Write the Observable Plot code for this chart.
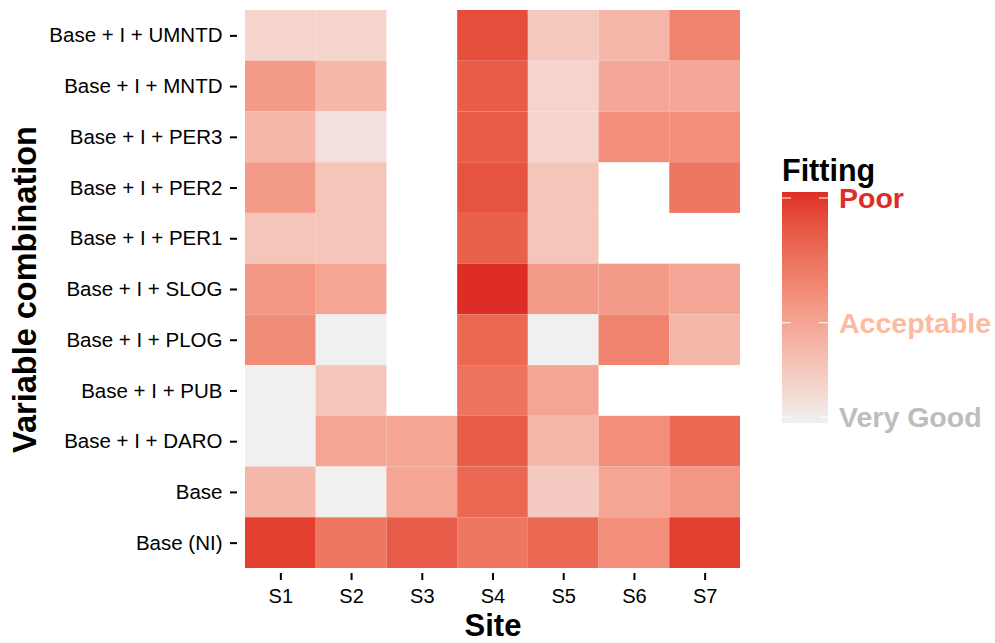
<!DOCTYPE html>
<html><head><meta charset="utf-8">
<script src="https://cdn.jsdelivr.net/npm/d3@7"></script>
<script src="https://cdn.jsdelivr.net/npm/@observablehq/plot@0.6"></script>
<style>
html,body{margin:0;padding:0;background:#fff;}
#chart{width:995px;height:643px;}
svg{font-family:"Liberation Sans",Arial,sans-serif;}
</style></head><body><div id="chart"></div>
<script>
// categories
const sites = ["S1","S2","S3","S4","S5","S6","S7"];
const combos = ["Base + I + UMNTD","Base + I + MNTD","Base + I + PER3","Base + I + PER2","Base + I + PER1",
  "Base + I + SLOG","Base + I + PLOG","Base + I + PUB","Base + I + DARO","Base","Base (NI)"];
// fitting score per combination, one value per site (0 = very good, 1 = poor; null = not fitted)
const vUMNTD = [0.16,0.16,null,0.88,0.23,0.33,0.62];
const vMNTD  = [0.49,0.33,null,0.81,0.16,0.42,0.42];
const vPER3  = [0.33,0.09,null,0.81,0.16,0.56,0.56];
const vPER2  = [0.49,0.25,null,0.86,0.25,null,0.68];
const vPER1  = [0.25,0.25,null,0.80,0.25,null,null];
const vSLOG  = [0.51,0.43,null,1.00,0.49,0.49,0.42];
const vPLOG  = [0.57,0.00,null,0.76,0.00,0.62,0.33];
const vPUB   = [0.00,0.25,null,0.70,0.43,null,null];
const vDARO  = [0.00,0.43,0.43,0.81,0.33,0.56,0.76];
const vBase  = [0.33,0.00,0.43,0.76,0.22,0.43,0.51];
const vBaseNI= [0.94,0.68,0.81,0.68,0.76,0.56,0.94];
const rows = [vUMNTD,vMNTD,vPER3,vPER2,vPER1,vSLOG,vPLOG,vPUB,vDARO,vBase,vBaseNI];
// legend
const legendLabels = ["Poor","Acceptable","Very Good"];
const legendValues = [0.974,0.434,0.026];
const legendColors = ["#DE2D26","#FCBBA1","#BDBDBD"];
const lowColor = "#F0F0F0", highColor = "#DE2D26";

const data = [];
combos.forEach((c,i)=>rows[i].forEach((v,j)=>{ if(v!=null) data.push({site:sites[j], combo:c, value:v}); }));

const chart = Plot.plot({
  width:995, height:643,
  marginTop:10, marginRight:255, marginBottom:75, marginLeft:245,
  style:{fontFamily:'"Liberation Sans",Arial,sans-serif', background:"#fff"},
  x:{domain:sites, padding:0, round:false, label:null},
  y:{domain:combos, padding:0, round:false, label:null},
  color:{type:"linear", domain:[0,1], range:[lowColor,highColor], interpolate:d3.interpolateLab},
  marks:[
    Plot.cell(data,{x:"site", y:"combo", fill:"value", inset:0}),
    Plot.axisX({tickSize:7, dy:5, tickPadding:8, fontSize:20, strokeWidth:2, label:null}),
    Plot.axisY({tickSize:7, dx:-8, tickPadding:8, fontSize:20.5, strokeWidth:2, label:null}),
    Plot.text(["Site"],{frameAnchor:"bottom", dy:67, fontSize:31, fontWeight:"bold", fill:"#000"}),
    Plot.text(["Variable combination"],{frameAnchor:"left", textAnchor:"middle", rotate:-90, dx:-220, fontSize:32.5, fontWeight:"bold", fill:"#000"})
  ]
});
document.getElementById("chart").appendChild(chart);

// colour-bar legend
const svg = d3.select(chart);
const barX = 782, barW = 46, barTop = 192, barBot = 423;
const ly = d3.scaleLinear().domain([0,1]).range([barBot,barTop]);
const interp = d3.interpolateLab(lowColor, highColor);
const grad = svg.append("defs").append("linearGradient").attr("id","fitgrad")
  .attr("x1",0).attr("x2",0).attr("y1",1).attr("y2",0);
d3.range(0,1.0001,0.05).forEach(t=>grad.append("stop").attr("offset",t).attr("stop-color",interp(t)));
const lg = svg.append("g").attr("text-anchor","start");
lg.append("text").attr("x",barX).attr("y",181).style("font-size","30.5px").attr("font-weight","bold").attr("fill","#000").text("Fitting");
lg.append("rect").attr("x",barX).attr("y",barTop).attr("width",barW).attr("height",barBot-barTop).attr("fill","url(#fitgrad)");
legendValues.forEach((v,i)=>{
  const y = ly(v);
  lg.append("line").attr("x1",barX).attr("x2",barX+9).attr("y1",y).attr("y2",y).attr("stroke","#fff").attr("stroke-width",1);
  lg.append("line").attr("x1",barX+barW-9).attr("x2",barX+barW).attr("y1",y).attr("y2",y).attr("stroke","#fff").attr("stroke-width",1);
  lg.append("text").attr("x",839).attr("y",y).attr("dy","0.36em").style("font-size","28.5px").attr("font-weight","bold")
    .attr("fill",legendColors[i]).text(legendLabels[i]);
});
</script></body></html>
